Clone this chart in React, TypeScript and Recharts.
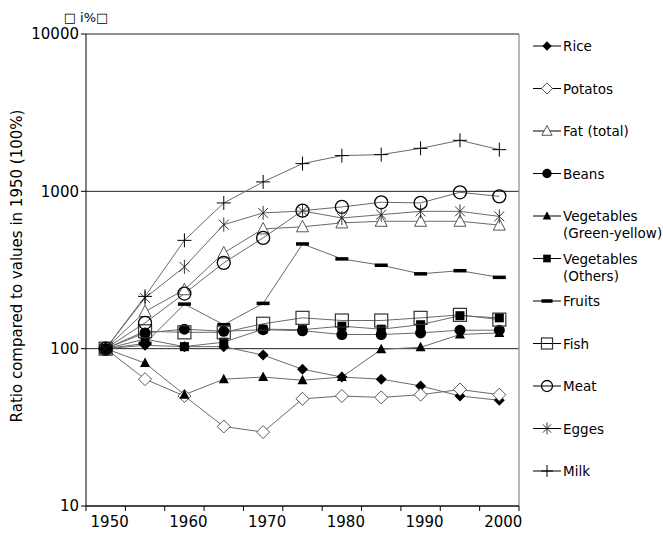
import React from 'react';
import { LineChart, Line, XAxis, YAxis, CartesianGrid, ReferenceLine, Legend } from 'recharts';

const years = [1950, 1955, 1960, 1965, 1970, 1975, 1980, 1985, 1990, 1995, 2000];
const rice = [100, 105, 103, 103, 91, 74, 66, 64, 58, 50, 47];
const potatos = [100, 64, 50, 32, 29.5, 48, 50, 49, 51, 55, 51];
const fat = [100, 172, 237, 406, 577, 595, 630, 645, 645, 645, 610];
const beans = [100, 126, 133, 129, 132, 130, 123, 123, 126, 131, 131];
const vegGreenYellow = [100, 81, 51, 64, 66, 63, 66, 99, 102, 123, 126];
const vegOthers = [100, 115, 103, 110, 133, 132, 139, 133, 142, 162, 157];
const fruits = [100, 108, 192, 142, 194, 463, 372, 339, 299, 313, 284];
const fish = [100, 129, 127, 127, 144, 157, 151, 151, 157, 164, 153];
const meat = [100, 146, 224, 351, 506, 754, 796, 852, 844, 986, 929];
const egges = [100, 210, 331, 614, 729, 750, 677, 711, 746, 746, 693];
const milk = [100, 215, 488, 844, 1148, 1500, 1687, 1711, 1876, 2110, 1841];

const yTicks = [10, 100, 1000, 10000];
const yLabel = 'Ratio compared to values in 1950 (100%)';
const unitLabel = '\u25A1 i%\u25A1';

const FONT = '"DejaVu Sans", sans-serif';

const series = [
  { key: 'rice', name: ['Rice'], values: rice, marker: 'diamondFilled' },
  { key: 'potatos', name: ['Potatos'], values: potatos, marker: 'diamondOpen' },
  { key: 'fat', name: ['Fat (total)'], values: fat, marker: 'triangleOpen' },
  { key: 'beans', name: ['Beans'], values: beans, marker: 'circleFilled' },
  { key: 'vegGY', name: ['Vegetables', '(Green-yellow)'], values: vegGreenYellow, marker: 'triangleFilled' },
  { key: 'vegOthers', name: ['Vegetables', '(Others)'], values: vegOthers, marker: 'squareFilled' },
  { key: 'fruits', name: ['Fruits'], values: fruits, marker: 'dash' },
  { key: 'fish', name: ['Fish'], values: fish, marker: 'squareOpen' },
  { key: 'meat', name: ['Meat'], values: meat, marker: 'circleOpen' },
  { key: 'egges', name: ['Egges'], values: egges, marker: 'asterisk' },
  { key: 'milk', name: ['Milk'], values: milk, marker: 'plus' },
];

const data = years.map((yr, i) => {
  const row: any = { x: i, year: yr };
  series.forEach((s) => {
    row[s.key] = s.values[i];
  });
  return row;
});

const xTicks: number[] = [];
for (let i = -0.5; i <= years.length - 0.5 + 1e-9; i += 0.5) xTicks.push(i);

function Marker({ kind, cx, cy, s = 1 }: { kind: string; cx: number; cy: number; s?: number }) {
  switch (kind) {
    case 'diamondFilled': {
      const h = 5.5 * s;
      return <polygon points={`${cx},${cy - h} ${cx + h},${cy} ${cx},${cy + h} ${cx - h},${cy}`} fill="#000" />;
    }
    case 'diamondOpen': {
      const h = 6.5 * s;
      return <polygon points={`${cx},${cy - h} ${cx + h},${cy} ${cx},${cy + h} ${cx - h},${cy}`} fill="#fff" stroke="#444" strokeWidth={0.9} />;
    }
    case 'triangleOpen': {
      const w = 6 * s;
      return <polygon points={`${cx},${cy - 6.5 * s} ${cx + w},${cy + 5 * s} ${cx - w},${cy + 5 * s}`} fill="#fff" stroke="#444" strokeWidth={0.9} />;
    }
    case 'circleFilled':
      return <circle cx={cx} cy={cy} r={5.5 * s} fill="#000" />;
    case 'triangleFilled': {
      const w = 5 * s;
      return <polygon points={`${cx},${cy - 5.5 * s} ${cx + w},${cy + 4 * s} ${cx - w},${cy + 4 * s}`} fill="#000" />;
    }
    case 'squareFilled': {
      const h = 4.5 * s;
      return <rect x={cx - h} y={cy - h} width={2 * h} height={2 * h} fill="#000" />;
    }
    case 'dash':
      return <rect x={cx - 6.5 * s} y={cy - 1.75} width={13 * s} height={3.5} fill="#000" />;
    case 'squareOpen': {
      const h = 6.5 * s;
      return <rect x={cx - h} y={cy - h} width={2 * h} height={2 * h} fill="none" stroke="#333" strokeWidth={1.2} />;
    }
    case 'circleOpen':
      return <circle cx={cx} cy={cy} r={6.5 * s} fill="none" stroke="#000" strokeWidth={1.3} />;
    case 'asterisk': {
      const r = 7 * s;
      const dx = r * Math.cos(Math.PI / 4);
      const dy = r * Math.sin(Math.PI / 4);
      return (
        <g stroke="#222" strokeWidth={0.9}>
          <line x1={cx} y1={cy - r} x2={cx} y2={cy + r} />
          <line x1={cx - dx} y1={cy - dy} x2={cx + dx} y2={cy + dy} />
          <line x1={cx - dx} y1={cy + dy} x2={cx + dx} y2={cy - dy} />
        </g>
      );
    }
    case 'plus': {
      const r = 7 * s;
      return (
        <g stroke="#000" strokeWidth={1}>
          <line x1={cx - r} y1={cy} x2={cx + r} y2={cy} />
          <line x1={cx} y1={cy - r} x2={cx} y2={cy + r} />
        </g>
      );
    }
    default:
      return null;
  }
}

function makeDot(kind: string) {
  return (props: any) => {
    const { cx, cy, index } = props;
    if (cx == null || cy == null) return <g key={`${kind}-${index}`} />;
    return (
      <g key={`${kind}-${index}`}>
        <Marker kind={kind} cx={cx} cy={cy} />
      </g>
    );
  };
}

function XTick(props: any) {
  const { x, y, payload } = props;
  const v = payload.value as number;
  const frac = Math.abs(v - Math.round(v));
  if (frac > 0.25) {
    return <line x1={x} y1={y - 5} x2={x} y2={y} stroke="#000" strokeWidth={1} />;
  }
  const idx = Math.round(v);
  if (idx % 2 !== 0) return <g />;
  return (
    <text x={x + 4} y={y + 16} textAnchor="middle" fontSize={15} fontFamily={FONT} fill="#000">
      {years[idx]}
    </text>
  );
}

function LegendContent() {
  const top = 46;
  const step = 42.5;
  return (
    <svg width={143} height={540} style={{ display: 'block', overflow: 'visible' }}>
      {series.map((s, i) => {
        const y = top + i * step;
        return (
          <g key={s.key}>
            <line x1={13} y1={y} x2={41} y2={y} stroke="#000" strokeWidth={1} />
            <Marker kind={s.marker} cx={27} cy={y} s={0.85} />
            {s.name.map((t, j) => (
              <text key={j} x={43} y={y + 5 + j * 17} fontSize={13.5} fontFamily={FONT} fill="#000">
                {t}
              </text>
            ))}
          </g>
        );
      })}
    </svg>
  );
}

function YLabel() {
  return (
    <g>
      <text
        x={17}
        y={266}
        transform="rotate(-90 17 266)"
        textAnchor="middle"
        dominantBaseline="central"
        fontSize={15}
        fontFamily={FONT}
        fill="#000"
      >
        {yLabel}
      </text>
      <text x={86} y={22} textAnchor="middle" fontSize={13} fontFamily={FONT} fill="#000">
        {unitLabel}
      </text>
    </g>
  );
}

export default function App() {
  return (
    <div style={{ position: 'absolute', left: 0, top: 0, width: 663, height: 540, background: '#fff', fontFamily: FONT }}>
      <LineChart width={663} height={540} data={data} margin={{ top: 34, right: 144, bottom: 4, left: 30 }}>
        <CartesianGrid vertical={false} stroke="#222" strokeWidth={1} />
        <XAxis
          dataKey="x"
          type="number"
          domain={[-0.5, years.length - 0.5]}
          ticks={xTicks}
          interval={0}
          tick={<XTick />}
          tickLine={false}
          tickSize={5}
          tickMargin={0}
          height={30}
          stroke="#000"
          allowDataOverflow
        />
        <YAxis
          type="number"
          scale="log"
          domain={[10, 10000]}
          ticks={yTicks}
          interval={0}
          width={56}
          tickSize={5}
          tickMargin={2}
          stroke="#000"
          tick={{ fill: '#000', fontSize: 15, fontFamily: FONT }}
          allowDataOverflow
          label={{ content: () => <YLabel /> }}
        />
        <ReferenceLine x={years.length - 0.5} stroke="#888" strokeWidth={1.2} />
        {series.map((s) => (
          <Line
            key={s.key}
            dataKey={s.key}
            name={s.name.join(' ')}
            stroke="#6a6a6a"
            strokeWidth={1}
            dot={makeDot(s.marker)}
            activeDot={false}
            isAnimationActive={false}
          />
        ))}
        <Legend
          layout="vertical"
          align="center"
          verticalAlign="middle"
          content={() => <LegendContent />}
          wrapperStyle={{ position: 'absolute', left: 520, top: 0, width: 143, height: 540 }}
        />
      </LineChart>
    </div>
  );
}
